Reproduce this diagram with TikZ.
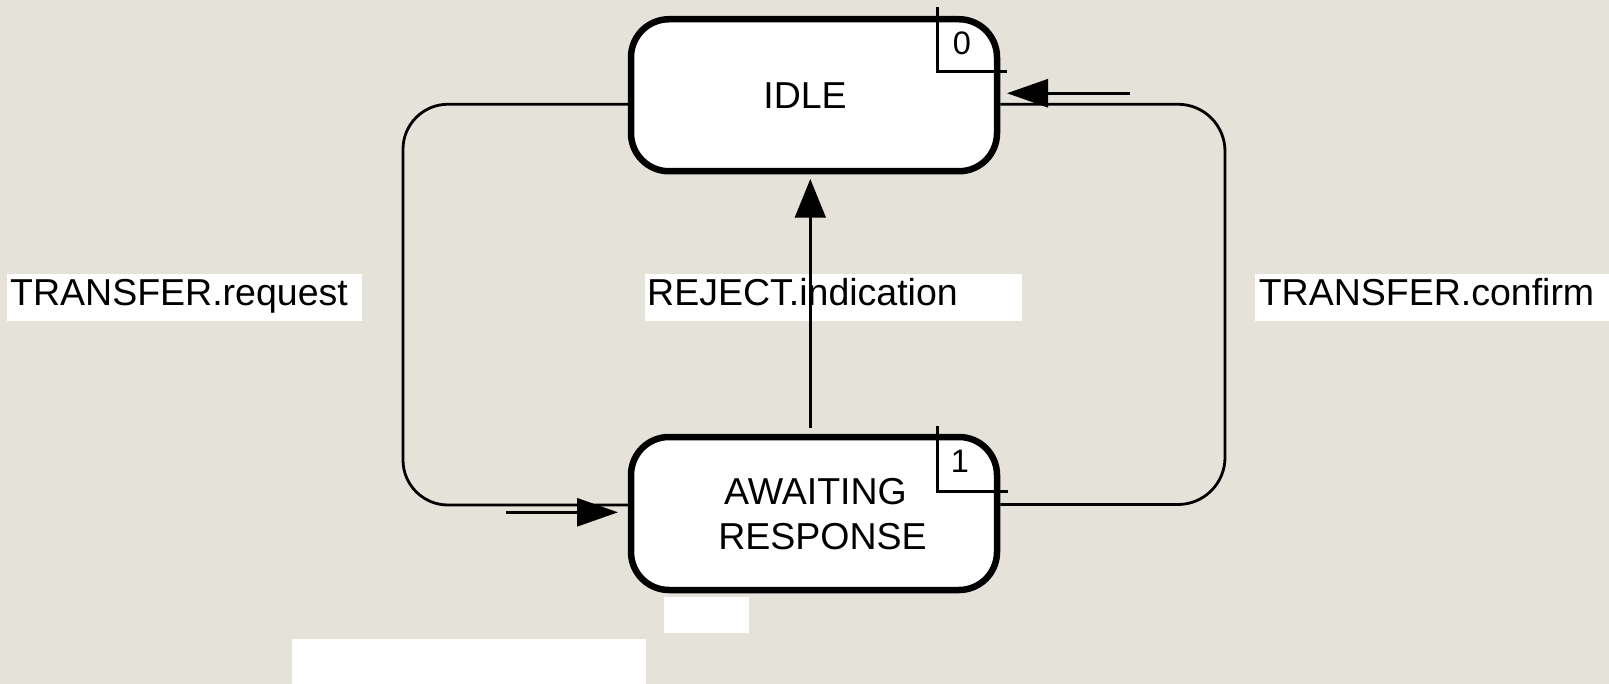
\documentclass[tikz,border=0pt]{standalone}
\usepackage{fontspec}
\setmainfont{Liberation Sans}
\usetikzlibrary{arrows.meta}
\definecolor{bgc}{RGB}{229,227,217}
\begin{document}
\begin{tikzpicture}[x=1pt,y=-1pt,
  state/.style={draw, line width=6.5pt, fill=white, rounded corners=38pt, minimum width=366pt, minimum height=152pt, inner sep=0pt},
  conn/.style={line width=2.8pt},
  tipline/.style={-{Triangle[length=41pt,width=28pt]}, line width=2.8pt},
  txt/.style={inner sep=0pt, anchor=base, font=\fontsize{37.5}{45}\selectfont},
  num/.style={inner sep=0pt, anchor=base, font=\fontsize{32.5}{39}\selectfont},
  numline/.style={line width=3pt}]
\fill[bgc] (0,0) rectangle (1609,684);
\useasboundingbox (0,0) rectangle (1609,684);

% label backgrounds
\fill[white] (7,274) rectangle (362,321);
\fill[white] (645,274) rectangle (1022,321);
\fill[white] (1255,274) rectangle (1609,321);
\fill[white] (664,597) rectangle (749,633);
\fill[white] (292,639) rectangle (646,684);

% states
\node[state] (idle) at (814,95.25) {};
\node[state, minimum height=153pt] (await) at (814,513.5) {};

\node[txt] (idletxt) at (805,108.3) {IDLE};
\node[txt] (aw1) at (815.5,504) {AWAITING};
\node[txt] (aw2) at (822.5,549.3) {RESPONSE};

% state numbers
\draw[numline] (937,7) |- (1007,72);
\node[num] (n0) at (962,55) {0};
\draw[numline] (937,426) |- (1008,491);
\node[num] (n1) at (960,472.7) {1};

% connectors
\draw[conn, rounded corners=45pt] ([yshift=-9pt]idle.west) -| (403,300) |- ([yshift=8.5pt]await.west);
\draw[conn, rounded corners=47pt] ([yshift=9pt]await.east) -| (1225,300) |- ([yshift=-9pt]idle.east);
\draw[conn, -{Triangle[length=38.7pt,width=30.7pt]}] ([xshift=-3.7pt,yshift=5.6pt]await.north) -- ([xshift=-3.7pt,yshift=-4.5pt]idle.south);

% direction arrows
\draw[tipline] ([xshift=-121.75pt,yshift=1.2pt]await.west) -- ([xshift=-9.75pt,yshift=1.2pt]await.west);
\draw[tipline] ([xshift=129.75pt,yshift=2pt]idle.east) -- ([xshift=6.75pt,yshift=2pt]idle.east);

% labels
\node[txt] (lreq) at (179,305.7) {TRANSFER.request};
\node[txt] (lrej) at (802.5,305.7) {REJECT.indication};
\node[txt] (lconf) at (1426.5,305.7) {TRANSFER.confirm};
\end{tikzpicture}
\end{document}
